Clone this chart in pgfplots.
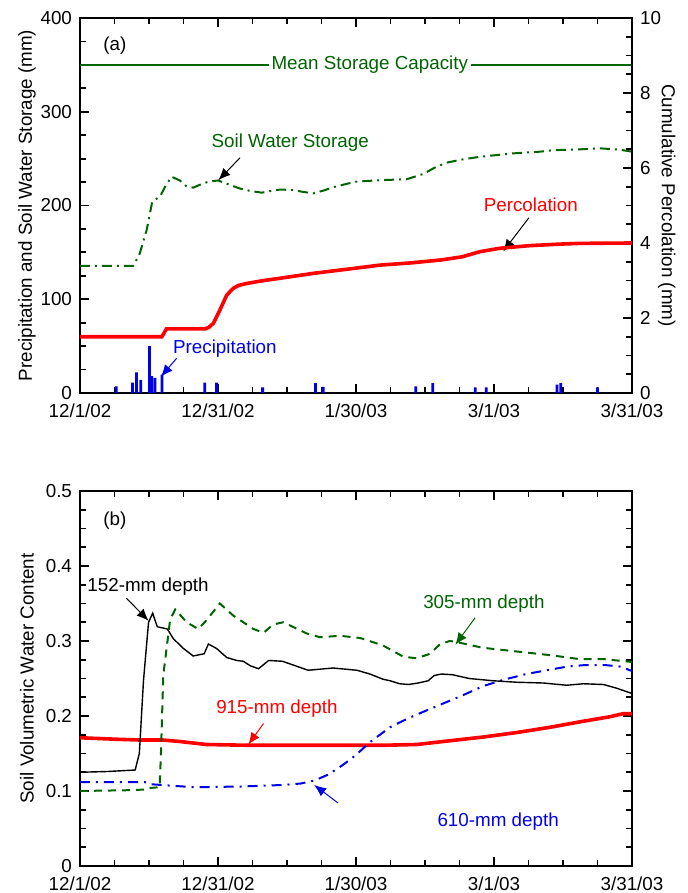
\documentclass[border=0pt]{standalone}
\usepackage{fontspec}
\setmainfont{Liberation Sans}
\usepackage{pgfplots}
\pgfplotsset{compat=1.18}
\usetikzlibrary{arrows.meta}
\definecolor{dgreen}{RGB}{0,100,0}
\definecolor{pblue}{RGB}{0,0,235}

\pgfplotsset{
 myaxis/.style={
  scale only axis, width=276pt, height=187.5pt,
  xmin=0, xmax=120, xtick={0,30,60,90,120},
  xticklabels={12/1/02,12/31/02,1/30/03,3/1/03,3/31/03},
  minor x tick num=3,
  tick align=inside,
  major tick length=4.5pt, minor tick length=2.8pt,
  axis line style={line width=1pt},
  every tick/.style={line width=0.9pt, black},
  font=\fontsize{9.4}{11}\selectfont,
  xticklabel style={yshift=-1.8pt},
  yticklabel style={xshift=-0.5pt},
  /pgf/number format/assume math mode=true,
 }
}

\begin{document}
\begin{tikzpicture}
\useasboundingbox (-40pt,-250pt) rectangle (304pt,196.5pt);

% ---------------- panel (a), left axis
\begin{axis}[myaxis, at={(0pt,0pt)}, anchor=south west,
  ymin=0, ymax=400, ytick={0,100,200,300,400}, minor y tick num=3,
  ytick pos=left,
  ylabel={Precipitation and Soil Water Storage (mm)},
  ylabel style={at={(axis description cs:-0.096,0.5)}, anchor=center}]

% precipitation
\addplot[ybar, bar width=0.6, fill=pblue, draw=none] coordinates {
(7.9,7) (11.4,11) (12.3,22) (13.2,14) (15.1,50) (15.6,18) (16.3,16) (17.8,19.5)
(27.1,11) (29.7,11) (39.7,6) (51.2,10.5) (52.9,6.5) (73.0,7) (76.7,10.5)
(85.9,6) (88.3,6) (103.7,9) (104.5,10.5) (112.5,6)
};

% mean storage capacity
\addplot[dgreen, line width=0.8pt] coordinates {(0,350) (120,350)};

% soil water storage
\addplot[dgreen, line width=1pt, dash pattern=on 5pt off 2.5pt on 1pt off 2.5pt] coordinates {
(0,135.5) (11.6,135.5) (13,149) (14.5,174) (15.7,204) (17.4,209.6) (18.5,220)
(19.9,230.7) (21.7,226.7) (23,221) (24.6,219) (26,222) (27.9,225.4) (30,226.7)
(32,223) (34.8,218) (37,215.5) (39.5,213.7) (41.5,215.5) (43.5,217) (46.3,216.5)
(48.5,214.5) (50.7,213) (53,216) (55,219.5) (57.5,222.5) (60,225.4) (65.2,227)
(71,228) (74.6,233.6) (77.5,241.4) (79.7,245.7) (83,249) (87,252) (94.2,255.6)
(100,257.4) (102.9,259) (108.7,259.9) (113,261) (117.4,259.5) (120,257.4)
};

\node[font=\fontsize{9.4}{11}\selectfont] at (axis cs:7.6,371) {(a)};
\node[font=\fontsize{9.4}{11}\selectfont, text=dgreen, fill=white, inner sep=1.5pt] at (axis cs:63,350) {Mean Storage Capacity};
\node[font=\fontsize{9.4}{11}\selectfont, text=dgreen] at (axis cs:45.7,266.7) {Soil Water Storage};
\draw[-{Latex[length=6pt,width=5pt]}, line width=0.5pt] (axis cs:34.8,251) -- (axis cs:30.1,227);
\node[font=\fontsize{9.4}{11}\selectfont, text=red] at (axis cs:98,200.5) {Percolation};
\draw[-{Latex[length=6pt,width=5pt]}, line width=0.5pt] (axis cs:97.6,187) -- (axis cs:92,151);
\node[font=\fontsize{9.4}{11}\selectfont, text=pblue] at (axis cs:31.5,47.7) {Precipitation};
\draw[pblue, -{Latex[length=6pt,width=5pt]}, line width=0.5pt] (axis cs:21,37) -- (axis cs:17.6,17.4);
\end{axis}

% ---------------- panel (a), right axis
\begin{axis}[myaxis, at={(0pt,0pt)}, anchor=south west,
  ymin=0, ymax=10, ytick={0,2,4,6,8,10}, minor y tick num=3,
  axis y line*=right, axis x line=none,
  yticklabel style={xshift=1pt},
  ylabel={Cumulative Percolation (mm)},
  ylabel style={at={(axis description cs:1.063,0.5)}, anchor=center, rotate=180}]
\addplot[red, line width=1.8pt] coordinates {
(0,1.5) (17.8,1.5) (18.8,1.71) (27.2,1.71) (28,1.75) (29,1.86) (30.4,2.21)
(31.9,2.61) (33.3,2.79) (34.5,2.87) (36.2,2.92) (40,3.0) (43.5,3.06) (50.7,3.19)
(58,3.30) (65.2,3.41) (72,3.47) (78.6,3.55) (83,3.63) (87,3.77) (91.3,3.86)
(97.8,3.93) (104.3,3.97) (108.7,3.99) (120,4.0)
};
\end{axis}

% ---------------- panel (b)
\begin{axis}[myaxis, at={(0pt,-236.5pt)}, anchor=south west,
  ymin=0, ymax=0.5, ytick={0,0.1,0.2,0.3,0.4,0.5}, minor y tick num=3,
  yticklabel style={/pgf/number format/fixed, /pgf/number format/precision=1},
  ylabel={Soil Volumetric Water Content},
  ylabel style={at={(axis description cs:-0.096,0.5)}, anchor=center}]

% 915 mm
\addplot[red, line width=1.8pt] coordinates {
(0,0.171) (8,0.169) (13,0.168) (18,0.168) (21.7,0.166) (27.5,0.162) (36.2,0.161)
(50.7,0.161) (61,0.161) (66,0.161) (73.2,0.162) (80.4,0.167) (87.7,0.172)
(95,0.178) (102.2,0.185) (109.4,0.193) (115.2,0.199) (118,0.203) (120,0.203)
};

% 610 mm
\addplot[pblue, line width=1pt, dash pattern=on 5pt off 3pt on 1pt off 3pt] coordinates {
(0,0.112) (14,0.112) (15.5,0.109) (20,0.107) (25,0.105) (35,0.106) (44,0.108)
(48,0.110) (51,0.114) (54,0.122) (57.2,0.135) (60,0.148) (63,0.165) (67.4,0.185)
(71.7,0.198) (77.5,0.213) (82.6,0.226) (87.7,0.240) (91.9,0.248) (97,0.256)
(102.4,0.262) (106,0.266) (110,0.268) (114,0.268) (117.3,0.266) (120,0.26)
};

% 305 mm
\addplot[dgreen, line width=1pt, dash pattern=on 4pt off 3pt] coordinates {
(0,0.100) (10,0.101) (14.5,0.102) (15,0.104) (17.3,0.105) (17.6,0.15) (18.1,0.254)
(19.6,0.329) (20.7,0.342) (23.2,0.325) (25.7,0.316) (27.4,0.327) (30.4,0.350)
(33.3,0.334) (37.7,0.316) (39.9,0.311) (42,0.322) (44.2,0.325) (49.3,0.31)
(52.2,0.305) (56.5,0.307) (60.9,0.304) (65.9,0.294) (70.3,0.279) (73.2,0.277)
(76.1,0.283) (78.3,0.296) (80.4,0.300) (81.6,0.299) (87.5,0.291) (95,0.286)
(102.4,0.281) (108.4,0.276) (113.6,0.276) (120,0.272)
};

% 152 mm
\addplot[black, line width=0.7pt] coordinates {
(0,0.125) (6,0.126) (12,0.128) (12.9,0.15) (13.8,0.247) (14.9,0.325) (15.8,0.337)
(16.8,0.319) (19,0.316) (20.3,0.303) (22.5,0.29) (24.6,0.28) (27,0.283) (27.9,0.296)
(29.7,0.29) (31.9,0.278) (34.1,0.274) (35.5,0.273) (37,0.267) (38.8,0.263)
(41,0.274) (44,0.273) (49.6,0.261) (55,0.264) (60.2,0.261) (63,0.256) (65.9,0.249)
(67.4,0.247) (69.5,0.243) (71.4,0.242) (73.5,0.244) (75.7,0.247) (77,0.254)
(78.6,0.256) (81,0.255) (84.6,0.25) (89.8,0.247) (95,0.245) (100.7,0.244)
(105.8,0.241) (109.4,0.243) (113.8,0.242) (116.7,0.237) (120,0.23)
};

\node[font=\fontsize{9.4}{11}\selectfont] at (axis cs:7.6,0.46) {(b)};
\node[font=\fontsize{9.4}{11}\selectfont] at (axis cs:14.8,0.372) {152-mm depth};
\draw[-{Latex[length=6pt,width=5pt]}, line width=0.5pt] (axis cs:10.1,0.357) -- (axis cs:14.9,0.327);
\node[font=\fontsize{9.4}{11}\selectfont, text=dgreen] at (axis cs:87.8,0.35) {305-mm depth};
\draw[dgreen, -{Latex[length=6pt,width=5pt]}, line width=0.5pt] (axis cs:85.9,0.331) -- (axis cs:81.6,0.295);
\node[font=\fontsize{9.4}{11}\selectfont, text=red] at (axis cs:42.8,0.21) {915-mm depth};
\draw[red, -{Latex[length=6pt,width=5pt]}, line width=0.5pt] (axis cs:39.9,0.19) -- (axis cs:36.6,0.162);
\node[font=\fontsize{9.4}{11}\selectfont, text=pblue] at (axis cs:90.9,0.0585) {610-mm depth};
\draw[pblue, -{Latex[length=6pt,width=5pt]}, line width=0.5pt] (axis cs:56.1,0.084) -- (axis cs:50.9,0.108);
\end{axis}
\end{tikzpicture}
\end{document}
